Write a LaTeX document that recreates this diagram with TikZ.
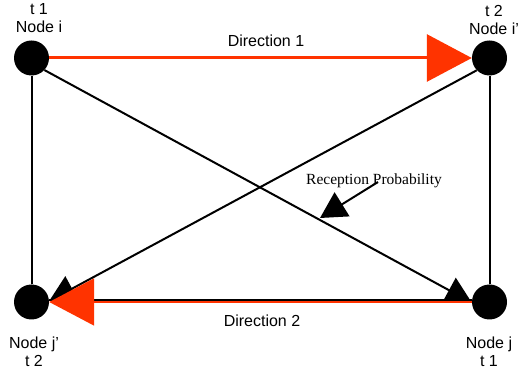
\documentclass[tikz,border=0pt]{standalone}
\usepackage{fontspec}
\setmainfont{Liberation Serif}
\setsansfont{Liberation Sans}
\usetikzlibrary{arrows.meta}
\definecolor{dirred}{RGB}{255,51,0}

\begin{document}
\begin{tikzpicture}[x=1pt,y=-1pt,
  station/.style={circle,fill=black,inner sep=0pt,minimum size=35pt},
  nodetag/.style={font=\sffamily\fontsize{16}{18}\selectfont,align=center,inner sep=0pt},
  dirtag/.style={font=\sffamily\fontsize{16}{18}\selectfont,inner sep=0pt,anchor=base},
  dirline/.style={draw=dirred,line width=3pt,-{Triangle[length=45pt,width=47pt]}},
  link/.style={draw=black,line width=2pt},
  probarrow/.style={link,-{Triangle[length=26pt,width=28pt]}}]
\useasboundingbox (0,0) rectangle (520,371);
% NODES
\node[station] (ni)  at (31.5,58)  {};
\node[station] (nip) at (489.5,58) {};
\node[station] (njp) at (31.5,302) {};
\node[station] (nj)  at (489.5,302) {};

\coordinate (rpfrom) at (378,182);
\coordinate (rpto)   at (320,218);
% CONNECTIONS
\draw[link] (ni) -- (njp);
\draw[link] (nip) -- (nj);
\draw[link] ([yshift=1.5pt]njp.east) -- ([yshift=1.5pt]nj.west);

\draw[probarrow] (ni.-43) -- (nj.182);
\draw[probarrow] (nip.224) -- ([yshift=1pt]njp.east);

\draw[dirline] (ni) -- (nip);
\draw[dirline,line width=2pt] (nj) -- (njp);

\draw[probarrow] (rpfrom) -- (rpto);
% NODE NAMES
\node[nodetag,anchor=south] (tagi)  at (39,33)  {t 1\\Node i};
\node[nodetag,anchor=south] (tagip) at (494,35) {t 2\\Node i’};
\node[nodetag,anchor=north] (tagjp) at (34,337) {Node j’\\t 2};
\node[nodetag,anchor=north] (tagj)  at (489,337) {Node j\\t 1};

\node[dirtag] (dir1) at (266,47)  {Direction 1};
\node[dirtag] (dir2) at (262,327) {Direction 2};
\node[anchor=base,inner sep=0pt,font=\fontsize{15.5}{18}\selectfont] (rp) at (374,185) {Reception Probability};
\end{tikzpicture}
\end{document}
